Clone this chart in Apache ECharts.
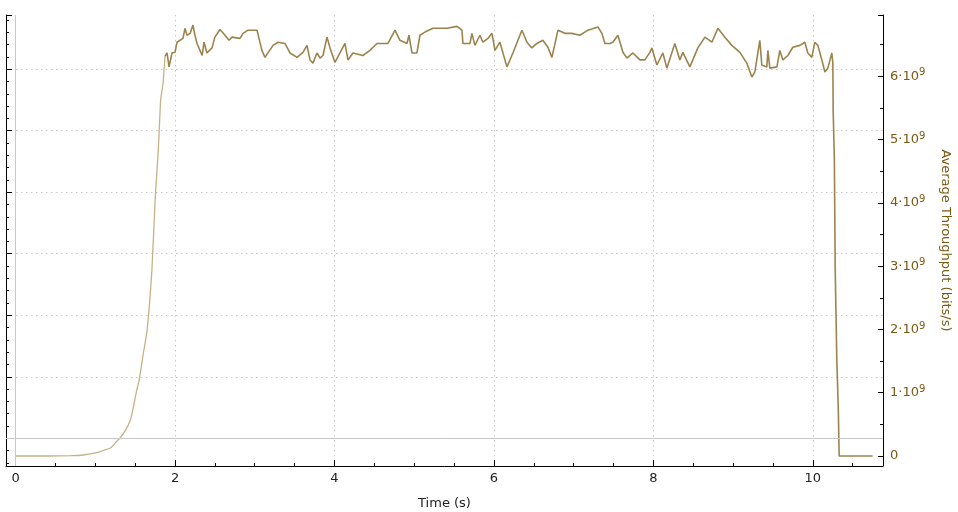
<!DOCTYPE html>
<html>
<head>
<meta charset="utf-8">
<script src="https://cdn.jsdelivr.net/npm/echarts@6/dist/echarts.min.js"></script>
<style>html,body{margin:0;padding:0;background:#fff;overflow:hidden}#c{width:958px;height:512px}</style>
</head>
<body>
<div id="c"></div>
<script>
// Time (s)
const times = [0.00,0.40,0.70,0.85,1.02,1.10,1.19,1.25,1.31,1.38,1.44,1.48,1.52,1.55,1.60,1.65,1.71,1.75,1.79,1.82,1.85,
1.875,1.90,1.925,1.962,2.00,2.025,2.10,2.125,2.15,2.19,2.225,2.25,2.276,2.34,2.364,2.40,2.464,2.50,2.564,2.627,2.677,2.715,2.815,2.853,2.915,3.028,3.09,3.128,3.229,3.292,3.379,3.442,3.53,3.605,3.655,3.693,3.73,3.78,3.818,3.856,3.906,3.944,4.006,4.069,4.132,4.169,4.232,4.357,4.445,4.533,4.671,4.759,4.821,4.909,4.934,4.972,5.034,5.072,5.135,5.235,5.411,5.536,5.599,5.611,5.699,5.724,5.762,5.824,5.862,5.925,5.975,6.013,6.075,6.163,6.238,6.351,6.414,6.476,6.539,6.614,6.677,6.727,6.803,6.89,6.978,7.078,7.179,7.304,7.354,7.392,7.455,7.492,7.555,7.618,7.668,7.743,7.831,7.893,7.956,7.981,8.044,8.119,8.169,8.269,8.332,8.37,8.458,8.558,8.646,8.734,8.809,8.897,8.984,9.085,9.172,9.235,9.273,9.335,9.36,9.423,9.436,9.461,9.549,9.586,9.624,9.687,9.749,9.837,9.90,9.937,9.987,10.025,10.063,10.113,10.151,10.188,10.238,10.251,
10.255,10.27,10.28,10.30,10.32,10.33,10.75];
// Average throughput, in units of 1e9 bits/s
const throughput = [0,0.0,0.005,0.016,0.053,0.087,0.126,0.205,0.284,0.41,0.569,0.79,1.04,1.20,1.60,1.99,2.94,4.04,4.83,5.62,5.90,
6.32,6.37,6.15,6.37,6.38,6.54,6.60,6.76,6.65,6.68,6.81,6.65,6.52,6.33,6.54,6.37,6.45,6.62,6.74,6.65,6.57,6.62,6.60,6.68,6.73,6.73,6.41,6.30,6.49,6.54,6.52,6.37,6.30,6.38,6.49,6.26,6.21,6.37,6.29,6.33,6.62,6.45,6.22,6.37,6.52,6.26,6.37,6.33,6.41,6.52,6.52,6.73,6.57,6.52,6.65,6.37,6.37,6.65,6.70,6.76,6.76,6.79,6.73,6.52,6.52,6.68,6.49,6.65,6.54,6.60,6.68,6.41,6.54,6.15,6.37,6.73,6.54,6.45,6.52,6.57,6.46,6.30,6.73,6.68,6.68,6.65,6.73,6.78,6.68,6.52,6.52,6.54,6.65,6.38,6.29,6.37,6.26,6.26,6.38,6.45,6.18,6.37,6.13,6.52,6.26,6.38,6.15,6.45,6.62,6.54,6.76,6.62,6.49,6.38,6.21,5.99,6.07,6.57,6.18,6.15,6.41,6.13,6.15,6.41,6.26,6.33,6.46,6.49,6.54,6.37,6.30,6.54,6.49,6.26,6.07,6.13,6.37,6.21,
5.46,4.68,3.0,1.56,0.70,0,0];
const xTicks = [0,2,4,6,8,10];
const rightTicks = [0,1,2,3,4,5,6];

const SCALE = 1e9;
const data = times.map((t, i) => [t, throughput[i] * SCALE]);
const rampEnd = 21;
const rampData = data.slice(0, rampEnd + 1);
const mainData = data.slice(rampEnd);

const gold = '#7a5a14';
const grid = '#c8c8c8';
const chart = echarts.init(document.getElementById('c'), null, {renderer: 'canvas'});
chart.setOption({
  animation: false,
  textStyle: {fontFamily: 'DejaVu Sans'},
  grid: {left: 6, right: 75, top: 15, bottom: 46, containLabel: false, outerBoundsMode: 'none'},
  xAxis: {
    type: 'value', min: -0.12, max: 10.88, minInterval: 2, maxInterval: 2, splitNumber: 5,
    name: 'Time (s)', nameLocation: 'middle', nameGap: 31,
    nameTextStyle: {color: '#222', fontSize: 13, fontFamily: 'DejaVu Sans'},
    axisLine: {show: true, onZero: false, lineStyle: {color: '#000', width: 1}},
    axisTick: {show: true, inside: true, length: 6, lineStyle: {color: '#000'}},
    minorTick: {show: true, splitNumber: 4, length: 3, lineStyle: {color: '#000'}},
    axisLabel: {color: '#222', fontSize: 13, margin: 6, fontFamily: 'DejaVu Sans',
      formatter: v => xTicks.indexOf(Math.round(v * 1000) / 1000) >= 0 ? String(v) : ''},
    splitLine: {show: true, showMinLine: false, showMaxLine: false,
      lineStyle: {type: [1.5, 3.5], width: 1, color: ['rgba(0,0,0,0)', grid, grid, grid, grid, grid]}}
  },
  yAxis: [
    {
      type: 'value', position: 'left', min: -0.45, max: 6.88, minInterval: 1, maxInterval: 1, splitNumber: 7,
      axisLine: {show: true, onZero: false, lineStyle: {color: '#000'}},
      axisTick: {show: true, inside: true, length: 6, lineStyle: {color: '#000'}},
      minorTick: {show: true, splitNumber: 5, length: 3, lineStyle: {color: '#000'}},
      axisLabel: {show: false},
      splitLine: {show: true, showMinLine: false, showMaxLine: false,
        lineStyle: {type: [1.5, 3.5], width: 1, color: ['rgba(0,0,0,0)', grid, grid, grid, grid, grid, grid]}}
    },
    {
      type: 'value', position: 'right', min: -0.158 * SCALE, max: 6.97 * SCALE,
      minInterval: SCALE, maxInterval: SCALE, splitNumber: 7,
      name: 'Average Throughput (bits/s)', nameLocation: 'middle', nameGap: 56, nameRotate: -90,
      nameTextStyle: {color: gold, fontSize: 13, fontFamily: 'DejaVu Sans'},
      axisLine: {show: true, onZero: false, lineStyle: {color: '#000'}},
      axisTick: {show: true, inside: true, length: 5, lineStyle: {color: '#000'}},
      minorTick: {show: true, splitNumber: 2, length: 3, lineStyle: {color: '#000'}},
      splitLine: {show: false},
      axisLabel: {
        margin: 7, color: gold, fontSize: 13, fontFamily: 'DejaVu Sans',
        formatter: v => {
          const k = Math.round(v / SCALE * 1000) / 1000;
          if (rightTicks.indexOf(k) < 0) return '';
          if (k === 0) return '0';
          return k + '·10{s|9}';
        },
        rich: {s: {fontSize: 10, color: gold, verticalAlign: 'top', padding: [0, 0, 7, 0], fontFamily: 'DejaVu Sans'}}
      }
    }
  ],
  series: [
    {
      type: 'line', yAxisIndex: 0, data: [[-0.12, 0], [10.88, 0]], symbol: 'none', silent: true,
      lineStyle: {width: 0, opacity: 0},
      markLine: {
        silent: true, symbol: 'none', label: {show: false},
        lineStyle: {color: grid, type: 'solid', width: 1},
        data: [{yAxis: 0}, {xAxis: 0}]
      },
      z: 1
    },
    {
      type: 'line', yAxisIndex: 1, data: rampData, symbol: 'none', showSymbol: false, smooth: 0.2,
      lineStyle: {color: '#c6b186', width: 1.3}, z: 3
    },
    {
      type: 'line', yAxisIndex: 1, data: mainData, symbol: 'none', showSymbol: false,
      lineStyle: {color: '#9c834c', width: 1.6}, z: 4
    }
  ]
});
</script>
</body>
</html>
